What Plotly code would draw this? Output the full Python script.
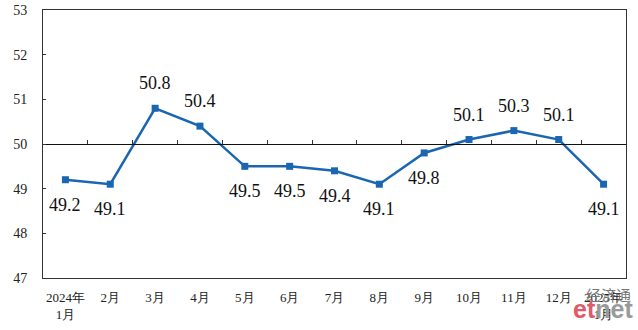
import plotly.graph_objects as go

categories = ["2024年<br>1月", "2月", "3月", "4月", "5月", "6月", "7月", "8月", "9月",
              "10月", "11月", "12月", "2025年<br>1月"]
values = [49.2, 49.1, 50.8, 50.4, 49.5, 49.5, 49.4, 49.1, 49.8, 50.1, 50.3, 50.1, 49.1]
label_above = [False, False, True, True, False, False, False, False, False, True, True, True, False]

color = "#1a66b0"
serif = "Liberation Serif"

fig = go.Figure()
fig.add_trace(go.Scatter(
    x=categories, y=values, mode="lines+markers",
    line=dict(color=color, width=2.5),
    marker=dict(symbol="square", size=7, color=color),
    showlegend=False, hoverinfo="skip",
))
fig.add_trace(go.Scatter(x=categories, y=values, xaxis="x2", mode="none",
                         showlegend=False, hoverinfo="skip"))

for c, v, up in zip(categories, values, label_above):
    fig.add_annotation(x=c, y=v, text=f"{v:.1f}", showarrow=False,
                       yshift=25 if up else -25,
                       font=dict(family=serif, size=18, color="#111111"))

xrange = [-0.5, len(categories) - 0.5]
fig.update_layout(
    width=638, height=330,
    margin=dict(l=43, r=12, t=10, b=52, autoexpand=False),
    plot_bgcolor="white", paper_bgcolor="white",
    xaxis=dict(type="category", range=xrange, showline=True, linecolor="#333333", linewidth=1,
               mirror=True, ticks="", showgrid=False, automargin=False,
               ticklabelstandoff=7,
               tickfont=dict(family=serif, size=13, color="#222222")),
    xaxis2=dict(type="category", range=xrange, overlaying="x", anchor="free", position=0.5,
                side="bottom", showline=True, linecolor="#111111", linewidth=1,
                ticks="inside", ticklen=4, tickcolor="#333333", tickson="boundaries",
                showticklabels=False, showgrid=False, automargin=False),
    yaxis=dict(range=[47, 53], dtick=1, showline=True, linecolor="#333333", linewidth=1,
               mirror=True, ticks="inside", ticklen=3, tickcolor="#333333",
               showgrid=False, zeroline=False, automargin=False,
               ticklabelstandoff=12,
               tickfont=dict(family=serif, size=14, color="#222222")),
)

# watermark
fig.add_annotation(xref="paper", yref="paper", x=1.012, y=-0.015, text="经济通",
                   showarrow=False, xanchor="right", yanchor="top",
                   font=dict(family="Noto Sans CJK SC", size=15, color="#777777"))
fig.add_annotation(xref="paper", yref="paper", x=1.016, y=-0.175,
                   text="<b>et</b><b><span style='color:#9a9a9a'>net</span></b>",
                   showarrow=False, xanchor="right", yanchor="bottom",
                   font=dict(family="Liberation Sans", size=25, color="#e05a67"))

fig.write_html("out.html")
